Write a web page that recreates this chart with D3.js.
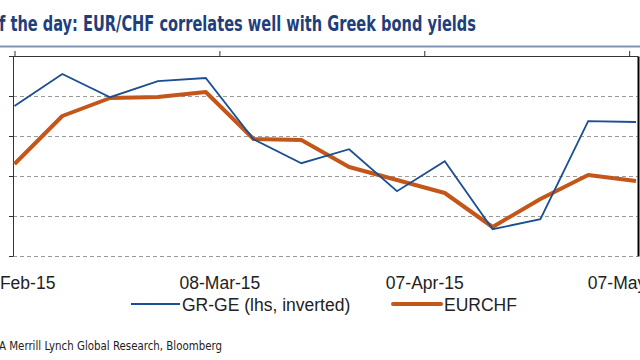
<!DOCTYPE html>
<html>
<head>
<meta charset="utf-8">
<script src="https://cdn.jsdelivr.net/npm/d3@7"></script>
<style>
  html, body { margin: 0; padding: 0; background: #fff; }
  svg { display: block; }
</style>
</head>
<body>
<svg id="chart" width="640" height="360"></svg>
<script>
// ---- data (weekly observations) ----
const dates = ["2015-02-06","2015-02-13","2015-02-20","2015-02-27","2015-03-06","2015-03-13","2015-03-20",
               "2015-03-27","2015-04-03","2015-04-10","2015-04-17","2015-04-24","2015-05-01","2015-05-08"];
const grge = [825, 745, 803, 763, 755, 908, 968, 933, 1038, 963, 1133, 1108, 863, 865];          // bp, lhs inverted
const eurchf = [1.046, 1.070, 1.079, 1.0795, 1.082, 1.0585, 1.058, 1.0445, 1.038, 1.0315, 1.0145, 1.0285, 1.0405, 1.0375];
const tickDates = ["2015-02-06","2015-03-08","2015-04-07","2015-05-07"];
const leftTicks = [700, 800, 900, 1000, 1100, 1200];
const rightTicks = [1.00, 1.02, 1.04, 1.06, 1.08, 1.10];
const seriesNames = ["GR-GE (lhs, inverted)", "EURCHF"];
const titleText = "f the day: EUR/CHF correlates well with Greek bond yields";
const sourceText = "A Merrill Lynch Global Research, Bloomberg";

const parse = d3.timeParse("%Y-%m-%d");
const fmt = d3.timeFormat("%d-%b-%y");
const pts = dates.map((d, i) => ({ date: parse(d), g: grge[i], e: eurchf[i] }));

const svg = d3.select("#chart");
const plot = { left: 13, right: 638, top: 56, bottom: 256 };

const x = d3.scaleTime().domain([parse(dates[0]), parse(dates[dates.length - 1])]).range([14.5, 636]);
const yL = d3.scaleLinear().domain([700, 1200]).range([plot.top, plot.bottom]);   // inverted
const yR = d3.scaleLinear().domain([1.00, 1.10]).range([plot.bottom, plot.top]);

// title
svg.append("text")
  .attr("x", -1).attr("y", 31)
  .attr("font-family", "'Liberation Sans Narrow', 'DejaVu Sans Condensed', 'Liberation Sans', sans-serif")
  .attr("font-size", 22)
  .attr("font-weight", "bold")
  .attr("fill", "#1f3f7c")
  .attr("textLength", 477)
  .attr("lengthAdjust", "spacingAndGlyphs")
  .text(titleText);
svg.append("line").attr("x1", 0).attr("x2", 640).attr("y1", 46.5).attr("y2", 46.5)
  .attr("stroke", "#8094b4").attr("stroke-width", 2);

// gridlines
const grid = svg.append("g").attr("transform", `translate(${plot.left},0)`)
  .call(d3.axisLeft(yL).tickValues(leftTicks.slice(1)).tickSize(-(plot.right - plot.left)).tickFormat(""));
grid.select(".domain").remove();
grid.selectAll(".tick line").attr("stroke", "#9a9a9a").attr("stroke-dasharray", "4,3").attr("stroke-width", 1);

// top axis (date axis, ticks only)
const topAx = svg.append("g").attr("transform", `translate(0,${plot.top})`)
  .call(d3.axisTop(x).tickValues(tickDates.map(parse)).tickSize(5).tickSizeOuter(0).tickFormat(""));
topAx.select(".domain").attr("d", `M${plot.left},0.5H${plot.right}`).attr("stroke", "#333");
topAx.selectAll(".tick line").attr("stroke", "#333");

// left axis
const leftAx = svg.append("g").attr("transform", `translate(${plot.left},0)`)
  .call(d3.axisLeft(yL).tickValues(leftTicks).tickSize(4).tickSizeOuter(0).tickFormat(""));
leftAx.selectAll("line, path").attr("stroke", "#333");

// right axis
const rightAx = svg.append("g").attr("transform", `translate(${plot.right},0)`)
  .call(d3.axisRight(yR).tickValues(rightTicks).tickSize(0).tickSizeOuter(0).tickFormat(""));
rightAx.select(".domain").attr("stroke", "#000").attr("stroke-width", 2);

// bottom labels
const botAx = svg.append("g").attr("transform", `translate(0,${plot.bottom})`)
  .call(d3.axisBottom(x).tickValues(tickDates.map(parse)).tickSize(0).tickPadding(21).tickFormat(fmt));
botAx.select(".domain").remove();
botAx.selectAll("text")
  .attr("font-family", "'Liberation Sans', Arial, sans-serif")
  .attr("font-size", 17.5).attr("fill", "#222");

// lines
const lineG = d3.line().x(d => x(d.date)).y(d => yL(d.g));
const lineE = d3.line().x(d => x(d.date)).y(d => yR(d.e));
svg.append("path").datum(pts).attr("d", lineE).attr("fill", "none")
  .attr("stroke", "#c4561a").attr("stroke-width", 4).attr("stroke-linejoin", "round");
svg.append("path").datum(pts).attr("d", lineG).attr("fill", "none")
  .attr("stroke", "#1b4f93").attr("stroke-width", 1.8).attr("stroke-linejoin", "miter");

// legend
const legend = svg.append("g").attr("font-family", "'Liberation Sans', Arial, sans-serif").attr("font-size", 17.5).attr("fill", "#222");
legend.append("line").attr("x1", 131).attr("x2", 180).attr("y1", 304).attr("y2", 304).attr("stroke", "#1b4f93").attr("stroke-width", 2);
legend.append("text").attr("x", 182).attr("y", 311).text(seriesNames[0]);
legend.append("line").attr("x1", 393).attr("x2", 441).attr("y1", 304).attr("y2", 304).attr("stroke", "#c4561a").attr("stroke-width", 4).attr("stroke-linecap", "round");
legend.append("text").attr("x", 444).attr("y", 311).text(seriesNames[1]);

// source
svg.append("text").attr("x", -1).attr("y", 350)
  .attr("font-family", "'Liberation Sans Narrow', 'DejaVu Sans Condensed', sans-serif")
  .attr("font-size", 13).attr("fill", "#222")
  .attr("textLength", 223).attr("lengthAdjust", "spacingAndGlyphs")
  .text(sourceText);
</script>
</body>
</html>
